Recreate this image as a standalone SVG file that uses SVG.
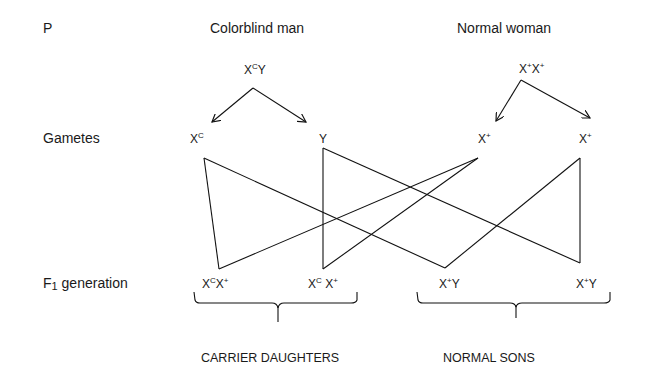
<svg xmlns="http://www.w3.org/2000/svg" width="655" height="381" viewBox="0 0 655 381">
<defs>
<style>
text{font-family:"Liberation Sans",Arial,sans-serif;fill:#1a1a1a}
.lbl{font-size:14px}
.g{font-size:12px}
.sup{font-size:8px}
.bot{font-size:12.5px}
.ln{stroke:#111;stroke-width:1.1;fill:none}
</style>
<marker id="arr" viewBox="0 0 10 10" refX="9" refY="5" markerWidth="9" markerHeight="9" markerUnits="userSpaceOnUse" orient="auto">
<path d="M0,0 L9,5 L0,10" fill="none" stroke="#111" stroke-width="1.3"/>
</marker>
</defs>
<rect width="655" height="381" fill="#fff"/>

<g id="row-labels">
<text class="lbl" x="43" y="33">P</text>
<text class="lbl" x="43" y="143">Gametes</text>
<text class="lbl" x="43" y="288">F<tspan font-size="11" dy="2">1</tspan><tspan dy="-2"> generation</tspan></text>
</g>

<g id="parent-man">
<text class="lbl" x="210" y="33">Colorblind man</text>
<text class="g" x="244" y="74">X<tspan class="sup" dy="-5">C</tspan><tspan dy="5">Y</tspan></text>
</g>
<g id="parent-woman">
<text class="lbl" x="457" y="33">Normal woman</text>
<text class="g" x="519" y="73">X<tspan class="sup" dy="-5">+</tspan><tspan dy="5">X</tspan><tspan class="sup" dy="-5">+</tspan></text>
</g>

<g id="gamete-xc"><text class="g" x="190" y="143">X<tspan class="sup" dy="-5">C</tspan></text></g>
<g id="gamete-y"><text class="g" x="319" y="143">Y</text></g>
<g id="gamete-xplus1"><text class="g" x="478" y="143">X<tspan class="sup" dy="-5">+</tspan></text></g>
<g id="gamete-xplus2"><text class="g" x="579" y="143">X<tspan class="sup" dy="-5">+</tspan></text></g>

<g id="f1-1"><text class="g" x="202" y="288">X<tspan class="sup" dy="-5">C</tspan><tspan dy="5">X</tspan><tspan class="sup" dy="-5">+</tspan></text></g>
<g id="f1-2"><text class="g" x="308" y="288">X<tspan class="sup" dy="-5">C</tspan><tspan dy="5"> X</tspan><tspan class="sup" dy="-5">+</tspan></text></g>
<g id="f1-3"><text class="g" x="439" y="288">X<tspan class="sup" dy="-5">+</tspan><tspan dy="5">Y</tspan></text></g>
<g id="f1-4"><text class="g" x="576" y="288">X<tspan class="sup" dy="-5">+</tspan><tspan dy="5">Y</tspan></text></g>

<g id="group-daughters">
<path class="ln" d="M194,292 L195,300 Q196,303 200,303 L272,303 Q277,303 278,308 Q279,303 284,303 L351,303 Q356,303 357,300 L357,292"/>
<path class="ln" d="M278,306 L278,322" stroke-width="1.6"/>
<text class="bot" x="201" y="362">CARRIER DAUGHTERS</text>
</g>
<g id="group-sons">
<path class="ln" d="M417,292 L418,300 Q419,303 423,303 L510,303 Q515,303 516,307 Q517,303 522,303 L604,303 Q609,303 610,300 L610,292"/>
<path class="ln" d="M516,306 L516,318" stroke-width="1.6"/>
<text class="bot" x="443" y="362">NORMAL SONS</text>
</g>

<g id="connectors">
<path class="ln" d="M253,88 L212,122" marker-end="url(#arr)"/>
<path class="ln" d="M253,88 L306,122" marker-end="url(#arr)"/>
<path class="ln" d="M521,80 L496,121" marker-end="url(#arr)"/>
<path class="ln" d="M521,80 L590,118" marker-end="url(#arr)"/>
<path class="ln" d="M204,158 L219,269"/>
<path class="ln" d="M204,158 L445,268"/>
<path class="ln" d="M219,269 L478,158"/>
<path class="ln" d="M323,148 L323,269"/>
<path class="ln" d="M323,148 L580,263"/>
<path class="ln" d="M323,269 L478,158"/>
<path class="ln" d="M445,268 L580,158"/>
<path class="ln" d="M580,158 L580,263"/>
</g>
</svg>
